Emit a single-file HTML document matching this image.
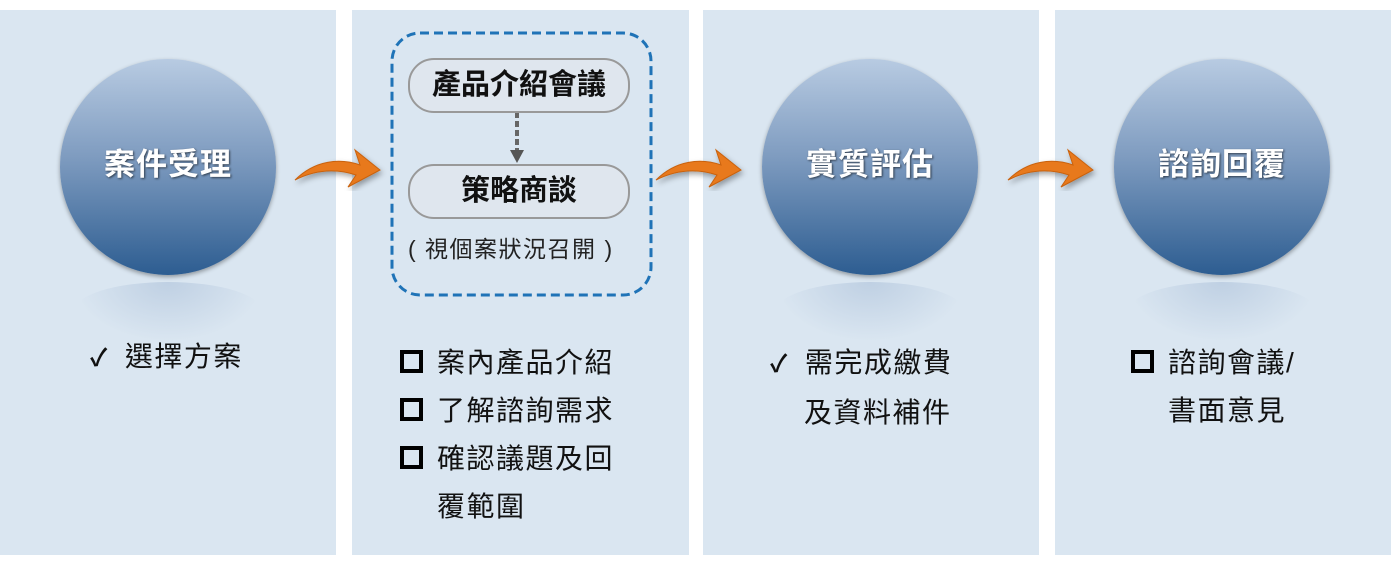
<!DOCTYPE html>
<html><head><meta charset="utf-8"><style>
body{margin:0;width:1391px;height:568px;background:#fff;position:relative;overflow:hidden;font-family:"Liberation Sans","Noto Sans CJK TC",sans-serif}
.p{position:absolute;top:10px;height:545px;background:#dae6f1}
.c{position:absolute;width:216px;height:216px;border-radius:50%;background:linear-gradient(#b8cbe2,#7f9cc0 45%,#2d5d91);box-shadow:0 2px 4px rgba(0,0,0,.35);color:#fff;font-size:31px;font-weight:bold;text-align:center;line-height:216px;text-shadow:1px 1px 2px rgba(0,0,0,.6);letter-spacing:1px}
.c span{position:relative;top:-2px}
.r{position:absolute;width:190px;height:60px;border-radius:50%;background:radial-gradient(ellipse at 50% 0%,rgba(120,150,190,.28),rgba(218,230,241,0) 70%)}
.t{position:absolute;font-size:28px;color:#111;letter-spacing:1.5px;line-height:48px;white-space:nowrap}
.b{display:inline-block;width:15px;height:15px;border:4px solid #000;margin-right:14px;vertical-align:-1px}
.ck{font-size:24px;font-weight:bold;margin-right:16px}
.pill{position:absolute;left:408px;width:218px;height:51px;border:2px solid #999;border-radius:26px;background:#dfe6ee;font-size:29px;font-weight:bold;text-align:center;line-height:51px;color:#111}
</style></head><body>
<div class="p" style="left:0;width:336px"></div>
<div class="p" style="left:352px;width:337px"></div>
<div class="p" style="left:703px;width:336px"></div>
<div class="p" style="left:1055px;width:336px"></div>

<div class="r" style="left:73px;top:282px"></div>
<div class="r" style="left:775px;top:282px"></div>
<div class="r" style="left:1127px;top:282px"></div>
<div class="c" style="left:60px;top:59px"><span>案件受理</span></div>
<div class="c" style="left:762px;top:59px"><span>實質評估</span></div>
<div class="c" style="left:1114px;top:59px"><span>諮詢回覆</span></div>

<svg width="1391" height="568" style="position:absolute;left:0;top:0">
<defs><filter id="s"><feDropShadow dx="2" dy="3" stdDeviation="3" flood-opacity=".35"/></filter></defs>
<g fill="#e8791c" stroke="#c9620f" stroke-width="1" filter="url(#s)">
<path d="M295 180 C315 160 340 158 360 165 L355 150 L380 170 L348 187 L356 175 C335 168 315 170 295 180Z"/>
<path d="M656 180 C676 160 701 158 721 165 L716 150 L741 170 L709 187 L717 175 C696 168 676 170 656 180Z"/>
<path d="M1008 180 C1028 160 1053 158 1073 165 L1068 150 L1093 170 L1061 187 L1069 175 C1048 168 1028 170 1008 180Z"/>
</g>
<rect x="392" y="33" width="259" height="262" rx="28" fill="none" stroke="#1f73b7" stroke-width="3" stroke-dasharray="9,5"/>
<line x1="517" y1="112" x2="517" y2="150" stroke="#666" stroke-width="4" stroke-dasharray="6,3"/>
<path d="M510 150 L524 150 L517 163Z" fill="#555"/>
</svg>
<div class="pill" style="top:58px">產品介紹會議</div>
<div class="pill" style="top:164px">策略商談</div>
<div class="t" style="left:408px;top:225px;font-size:23px;color:#222">(&nbsp;視個案狀況召開&nbsp;)</div>

<div class="t" style="left:90px;top:333px"><span class="ck">✓</span>選擇方案</div>
<div class="t" style="left:400px;top:339px"><span class="b"></span>案內產品介紹<br><span class="b"></span>了解諮詢需求<br><span class="b"></span>確認議題及回<br><span style="display:inline-block;width:37px"></span>覆範圍</div>
<div class="t" style="left:770px;top:339px"><span class="ck">✓</span>需完成繳費<br><span style="display:inline-block;width:34px"></span>及資料補件</div>
<div class="t" style="left:1131px;top:339px"><span class="b"></span>諮詢會議/<br><span style="display:inline-block;width:37px"></span>書面意見</div>
</body></html>
